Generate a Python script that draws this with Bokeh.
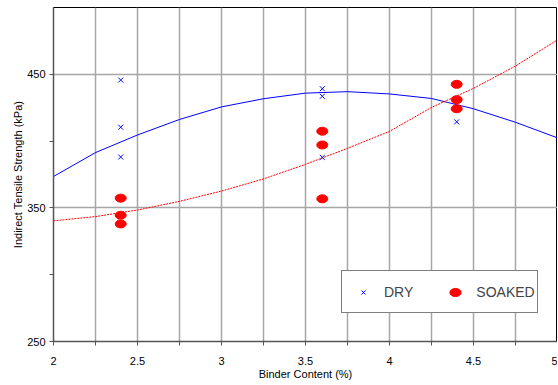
from bokeh.plotting import figure
from bokeh.models import FixedTicker, Range1d, Legend, LegendItem
from bokeh.embed import file_html
from bokeh.resources import INLINE

# Data
dry_x = [2.4, 2.4, 2.4, 3.6, 3.6, 3.6, 4.4]
dry_y = [445.7, 410.4, 388.1, 439.2, 433.5, 387.8, 414.4]
soak_x = [2.4, 2.4, 2.4, 3.6, 3.6, 3.6, 4.4, 4.4, 4.4]
soak_y = [357.3, 344.5, 338.0, 407.4, 397.1, 356.8, 442.5, 431.0, 424.2]

# Trend curves
curve_x = [2.0, 2.25, 2.5, 2.75, 3.0, 3.25, 3.5, 3.75, 4.0, 4.25, 4.5, 4.75, 5.0]
dry_curve = [373.5, 391.4, 404.6, 416.2, 425.6, 431.7, 435.9, 437.0, 435.3, 431.9, 424.2, 414.1, 402.4]
soak_curve = [340.3, 343.5, 348.4, 354.9, 362.6, 371.7, 382.6, 394.6, 407.3, 425.2, 439.5, 456.2, 475.8]

x_major = [2, 2.5, 3, 3.5, 4, 4.5, 5]
x_minor = [2.25, 2.75, 3.25, 3.75, 4.25, 4.75]
y_major = [250, 350, 450]
y_minor = [300, 400]

FONT = "Liberation Sans"
GRID = "#a6a6a6"
AXIS = "#555555"

p = figure(width=557, height=385, output_backend="svg", toolbar_location=None,
           x_range=Range1d(2, 5), y_range=Range1d(250, 500),
           min_border_left=53, min_border_right=0, min_border_top=7, min_border_bottom=44)

p.outline_line_color = "black"
p.outline_line_width = 1
p.background_fill_color = "white"

p.xaxis.ticker = FixedTicker(ticks=x_major, minor_ticks=x_minor)
p.yaxis.ticker = FixedTicker(ticks=y_major, minor_ticks=y_minor)

for ax in (p.xaxis[0], p.yaxis[0]):
    ax.axis_line_color = AXIS
    ax.axis_line_width = 1.5
    ax.major_tick_line_color = AXIS
    ax.minor_tick_line_color = AXIS
    ax.major_tick_in = 0
    ax.major_tick_out = 4
    ax.minor_tick_in = 0
    ax.minor_tick_out = 4
    ax.major_label_text_font = FONT
    ax.major_label_text_font_size = "11px"
    ax.major_label_text_color = "black"
    ax.axis_label_text_font = FONT
    ax.axis_label_text_font_size = "11px"
    ax.axis_label_text_font_style = "normal"
    ax.axis_label_text_color = "black"

p.xaxis.axis_label = "Binder Content (%)"
p.yaxis.axis_label = "Indirect Tensile Strength (kPa)"
p.xaxis.major_label_standoff = 11
p.xaxis.axis_label_standoff = 0
p.yaxis.major_label_standoff = 4
p.yaxis.axis_label_standoff = 0

p.xgrid.grid_line_color = GRID
p.xgrid.grid_line_width = 1.5
p.xgrid.minor_grid_line_color = GRID
p.xgrid.minor_grid_line_width = 1.5
p.ygrid.grid_line_color = GRID
p.ygrid.grid_line_width = 1.5

p.line(curve_x, dry_curve, line_color="blue", line_width=1)
p.line(curve_x, soak_curve, line_color="red", line_width=1, line_dash="2 1")

r_dry = p.scatter(dry_x, dry_y, marker="x", size=7, line_color="blue", line_width=1)
r_soak = p.ellipse(soak_x, soak_y, width=11, height=8, width_units="screen",
                   height_units="screen", fill_color="red", line_color="red")

legend = Legend(items=[LegendItem(label="DRY", renderers=[r_dry]),
                       LegendItem(label="SOAKED", renderers=[r_soak])],
                orientation="horizontal", location=(288, 28),
                label_text_font=FONT, label_text_font_size="14px",
                glyph_width=38, glyph_height=14, label_height=37,
                label_standoff=2, spacing=23,
                padding=2, margin=0, border_line_color="black", border_line_width=1.2,
                background_fill_alpha=1.0)
p.add_layout(legend)

open("out.html", "w").write(file_html(p, INLINE))
